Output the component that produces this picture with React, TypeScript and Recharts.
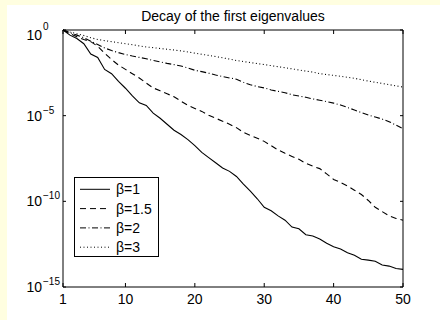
import React from 'react'
import { LineChart, Line, XAxis, YAxis, Legend } from 'recharts'

// eigenvalue index
const idx = [
  1, 2, 3, 4, 5, 6, 7, 8, 9, 10, 11, 12, 13, 14, 15, 16, 17, 18, 19, 20, 21, 22, 23, 24, 25,
  26, 27, 28, 29, 30, 31, 32, 33, 34, 35, 36, 37, 38, 39, 40, 41, 42, 43, 44, 45, 46, 47, 48, 49, 50,
]

// log10 of the eigenvalues
const beta1 = [
  0, -0.3, -0.5, -0.8, -1.4, -1.6, -2.3, -2.55, -3.0, -3.4, -3.85, -4.25, -4.4, -4.85, -5.15,
  -5.5, -5.85, -6.1, -6.4, -6.75, -7.14, -7.45, -7.75, -8.05, -8.25, -8.55, -9.0, -9.4, -9.85,
  -10.35, -10.55, -10.85, -11.1, -11.5, -11.6, -11.95, -12.02, -12.2, -12.45, -12.65, -12.78,
  -13.0, -13.15, -13.38, -13.43, -13.5, -13.72, -13.78, -13.92, -13.97,
]
const beta15 = [
  0, -0.2, -0.4, -0.55, -0.68, -0.95, -1.35, -1.72, -2.05, -2.3, -2.55, -2.8, -3.1, -3.38, -3.55,
  -3.72, -3.9, -4.15, -4.4, -4.58, -4.75, -4.98, -5.15, -5.32, -5.5, -5.7, -5.97, -6.15, -6.32,
  -6.5, -6.75, -7.0, -7.2, -7.38, -7.55, -7.78, -7.95, -8.09, -8.4, -8.72, -8.9, -9.1, -9.35,
  -9.6, -9.95, -10.35, -10.6, -10.85, -11.0, -11.1,
]
const beta2 = [
  0, -0.15, -0.3, -0.45, -0.65, -0.85, -1.05, -1.2, -1.32, -1.43, -1.52, -1.6, -1.68, -1.78,
  -1.86, -1.95, -2.02, -2.1, -2.22, -2.35, -2.43, -2.52, -2.63, -2.72, -2.8, -2.87, -3.05, -3.2,
  -3.3, -3.38, -3.5, -3.58, -3.66, -3.78, -3.85, -3.93, -4.02, -4.1, -4.18, -4.27, -4.38, -4.52,
  -4.67, -4.82, -4.96, -5.08, -5.2, -5.35, -5.55, -5.76,
]
const beta3 = [
  0, -0.12, -0.22, -0.32, -0.45, -0.55, -0.62, -0.68, -0.74, -0.8, -0.86, -0.93, -0.99, -1.03,
  -1.08, -1.12, -1.17, -1.22, -1.28, -1.35, -1.42, -1.48, -1.55, -1.62, -1.7, -1.78, -1.84, -1.9,
  -1.96, -2.02, -2.08, -2.14, -2.2, -2.27, -2.33, -2.4, -2.46, -2.55, -2.6, -2.65, -2.7, -2.76,
  -2.82, -2.9, -2.98, -3.05, -3.12, -3.19, -3.26, -3.33,
]

const xTicks = [1, 10, 20, 30, 40, 50]
const yTicks = [0, -5, -10, -15]

const series = [
  { key: 'b1', name: 'β=1', dash: undefined },
  { key: 'b15', name: 'β=1.5', dash: '6 4' },
  { key: 'b2', name: 'β=2', dash: '6 2.5 1 2.5' },
  { key: 'b3', name: 'β=3', dash: '1 2.5' },
]

const data = idx.map((n, i) => ({ n, b1: beta1[i], b15: beta15[i], b2: beta2[i], b3: beta3[i] }))

const FONT = '"Liberation Sans", Arial, Helvetica, sans-serif'

const BottomTick = ({ x, y, payload }: any) => (
  <g>
    <line x1={x} x2={x} y1={y} y2={y - 4} stroke="#000" />
    <text x={x} y={y + 17} textAnchor="middle" fontSize={14} fontFamily={FONT} fill="#000">
      {payload.value}
    </text>
  </g>
)

const TopTick = ({ x, y }: any) => <line x1={x} x2={x} y1={y} y2={y + 4} stroke="#000" />

const LeftTick = ({ x, y, payload }: any) => {
  const v = payload.value
  const base = v === 0 ? 10.3 : 5
  const sup = v === 0 ? 10 : 7
  return (
    <g fontFamily={FONT} fill="#000">
      <line x1={x} x2={x + 3} y1={y} y2={y} stroke="#000" />
      <text x={42} y={y + base} textAnchor="end" fontSize={14}>10</text>
      <text x={43} y={y + base - sup} fontSize={10}>{v === 0 ? '0' : '\u2212' + -v}</text>
    </g>
  )
}

const RightTick = ({ x, y }: any) => <line x1={x} x2={x - 3} y1={y} y2={y} stroke="#000" />

const LegendBox = () => (
  <svg width={86} height={81} style={{ display: 'block' }}>
    <rect x={0.5} y={0.5} width={84} height={79} fill="#fff" stroke="#000" />
    {series.map((s, i) => {
      const cy = 12.3 + i * 19.3
      return (
        <g key={s.key}>
          <line x1={6} x2={36} y1={cy} y2={cy} stroke="#000" strokeDasharray={s.dash} />
          <text x={42} y={cy + 5} fontSize={14} fontFamily={FONT} fill="#000">{s.name}</text>
        </g>
      )
    })}
  </svg>
)

export default function App() {
  return (
    <div style={{ position: 'fixed', left: 0, top: 0, width: 440, height: 320, background: '#fffee0' }}>
      <div style={{ position: 'absolute', left: 7, top: 5, right: 0, bottom: 0, background: '#fff' }} />
      <div
        style={{
          position: 'absolute', left: 63, width: 340, top: 8, textAlign: 'center',
          fontFamily: FONT, fontSize: 14, lineHeight: '16px', color: '#000',
        }}
      >
        Decay of the first eigenvalues
      </div>
      <div style={{ position: 'absolute', left: 0, top: 0 }}>
        <LineChart width={440} height={320} data={data} margin={{ top: 0, right: 0, bottom: 0, left: 0 }}>
          <XAxis dataKey="n" type="number" domain={[1, 50]} ticks={xTicks} interval={0} height={33}
            tickSize={0} tickMargin={0} tickLine={false} axisLine={{ stroke: '#000' }} tick={<BottomTick />} />
          <XAxis xAxisId="top" dataKey="n" orientation="top" type="number" domain={[1, 50]} allowDataOverflow
            ticks={xTicks} interval={0} height={30} tickSize={0} tickMargin={0} tickLine={false}
            axisLine={{ stroke: '#000' }} tick={<TopTick />} />
          <YAxis type="number" domain={[-15, 0]} ticks={yTicks} interval={0} width={63}
            tickSize={0} tickMargin={0} tickLine={false} axisLine={{ stroke: '#000' }} tick={<LeftTick />} />
          <YAxis yAxisId="right" orientation="right" type="number" domain={[-15, 0]} allowDataOverflow
            ticks={yTicks} interval={0} width={37} tickSize={0} tickMargin={0} tickLine={false}
            axisLine={{ stroke: '#000' }} tick={<RightTick />} />
          {series.map(s => (
            <Line key={s.key} dataKey={s.key} name={s.name} type="linear" stroke="#000" strokeWidth={1.1}
              strokeDasharray={s.dash} dot={false} isAnimationActive={false} />
          ))}
          <Legend layout="vertical" align="center" verticalAlign="middle" content={<LegendBox />}
            wrapperStyle={{ left: 74, top: 177, right: 'auto', bottom: 'auto', width: 86, height: 81 }} />
        </LineChart>
      </div>
    </div>
  )
}
